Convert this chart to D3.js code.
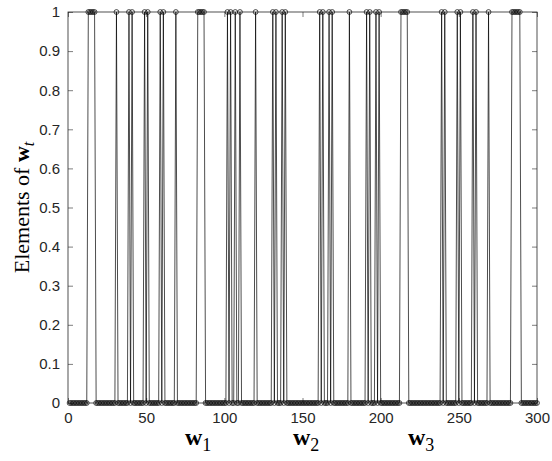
<!DOCTYPE html>
<html>
<head>
<meta charset="utf-8">
<script src="https://cdn.jsdelivr.net/npm/d3@7"></script>
<style>
  body { margin: 0; background: #fff; }
  svg { display: block; }
</style>
</head>
<body>
<div id="chart"></div>
<script>
// indices (1..300) where the element of w_t equals 1, one list per block
var onesW1 = [13, 14, 15, 16, 17, 31, 39, 41, 49, 51, 59, 61, 69, 83, 84, 85, 86, 87];
var onesW2 = [102, 104, 107, 110, 120, 131, 133, 137, 139, 161, 163, 167, 169, 180, 191, 193, 197, 199];
var onesW3 = [213, 214, 215, 216, 217, 239, 241, 249, 251, 259, 261, 269, 284, 285, 286, 287, 288, 289];
var nElements = 300;
var xTicks = [0, 50, 100, 150, 200, 250, 300];
var yTicks = [0, 0.1, 0.2, 0.3, 0.4, 0.5, 0.6, 0.7, 0.8, 0.9, 1];
var blockLabels = ["1", "2", "3"];

// build the full vector from the lists
var ones = new Set(onesW1.concat(onesW2, onesW3));
var values = d3.range(1, nElements + 1).map(function(i) {
  return { i: i, v: ones.has(i) ? 1 : 0 };
});

var width = 552,
    height = 461;
var margin = { top: 12, right: 15, bottom: 58, left: 68 };

var svg = d3.select("#chart")
            .append("svg")
              .attr("width", width)
              .attr("height", height);

var x = d3.scaleLinear()
          .domain([0, 300])
          .range([margin.left, width - margin.right]);

var y = d3.scaleLinear()
          .domain([0, 1])
          .range([height - margin.bottom, margin.top]);

var tick = 5;
var tickFont = "'Liberation Sans', Arial, sans-serif";

// bottom axis (ticks inside)
var xAxis = svg.append("g")
  .attr("transform", "translate(0," + y(0) + ")")
  .call(d3.axisBottom(x).tickValues(xTicks).tickSize(-tick).tickPadding(9).tickFormat(d3.format("d")));
// left axis
var yAxis = svg.append("g")
  .attr("transform", "translate(" + x(0) + ",0)")
  .call(d3.axisLeft(y).tickValues(yTicks).tickSize(-tick).tickPadding(8).tickFormat(function(d) { return d === 0 || d === 1 ? d3.format("d")(d) : d3.format(".1f")(d); }));
// top and right ticks
var xTop = svg.append("g")
  .attr("transform", "translate(0," + y(1) + ")")
  .call(d3.axisTop(x).tickValues(xTicks).tickSize(-tick).tickFormat(""));
var yRight = svg.append("g")
  .attr("transform", "translate(" + x(300) + ",0)")
  .call(d3.axisRight(y).tickValues(yTicks).tickSize(-tick).tickFormat(""));

[xAxis, yAxis, xTop, yRight].forEach(function(g) {
  g.select(".domain").remove();
  g.selectAll("line").attr("stroke", "#262626").attr("stroke-width", 0.6);
  g.selectAll("text")
    .attr("fill", "#262626")
    .style("font-family", tickFont)
    .style("font-size", "15px");
});

// the data: line through every element plus circle markers
var line = d3.line()
  .x(function(d) { return x(d.i); })
  .y(function(d) { return y(d.v); });

svg.append("path")
  .datum(values)
  .attr("d", line)
  .attr("fill", "none")
  .attr("stroke", "#000")
  .attr("stroke-width", 0.7);

svg.selectAll("circle.m")
  .data(values)
  .enter()
  .append("circle")
    .attr("class", "m")
    .attr("cx", function(d) { return x(d.i); })
    .attr("cy", function(d) { return y(d.v); })
    .attr("r", 2.4)
    .attr("fill", "none")
    .attr("stroke", "#000")
    .attr("stroke-width", 0.7);

// axes box
svg.append("rect")
  .attr("x", x(0))
  .attr("y", y(1))
  .attr("width", x(300) - x(0))
  .attr("height", y(0) - y(1))
  .attr("fill", "none")
  .attr("stroke", "#262626")
  .attr("stroke-width", 0.8);

// y label
var ylab = svg.append("text")
  .attr("transform", "translate(29," + ((y(0) + y(1)) / 2) + ") rotate(-90)")
  .attr("text-anchor", "middle")
  .style("font-family", "'Liberation Serif', 'Times New Roman', serif")
  .style("font-size", "22px")
  .attr("fill", "#000");
ylab.append("tspan").text("Elements of ");
ylab.append("tspan").attr("font-weight", "bold").text("w");
ylab.append("tspan").attr("font-style", "italic").attr("font-size", "16px").attr("dy", 5).text("t");

// block labels under the axis
var blockX = [185, 293, 408];
blockLabels.forEach(function(b, k) {
  var t = svg.append("text")
    .attr("x", blockX[k])
    .attr("y", 445)
    .style("font-family", "'Liberation Serif', 'Times New Roman', serif")
    .style("font-size", "24px")
    .attr("fill", "#000");
  t.append("tspan").attr("font-weight", "bold").text("w");
  t.append("tspan").attr("font-size", "18px").attr("dy", 6).text(b);
});
</script>
</body>
</html>
